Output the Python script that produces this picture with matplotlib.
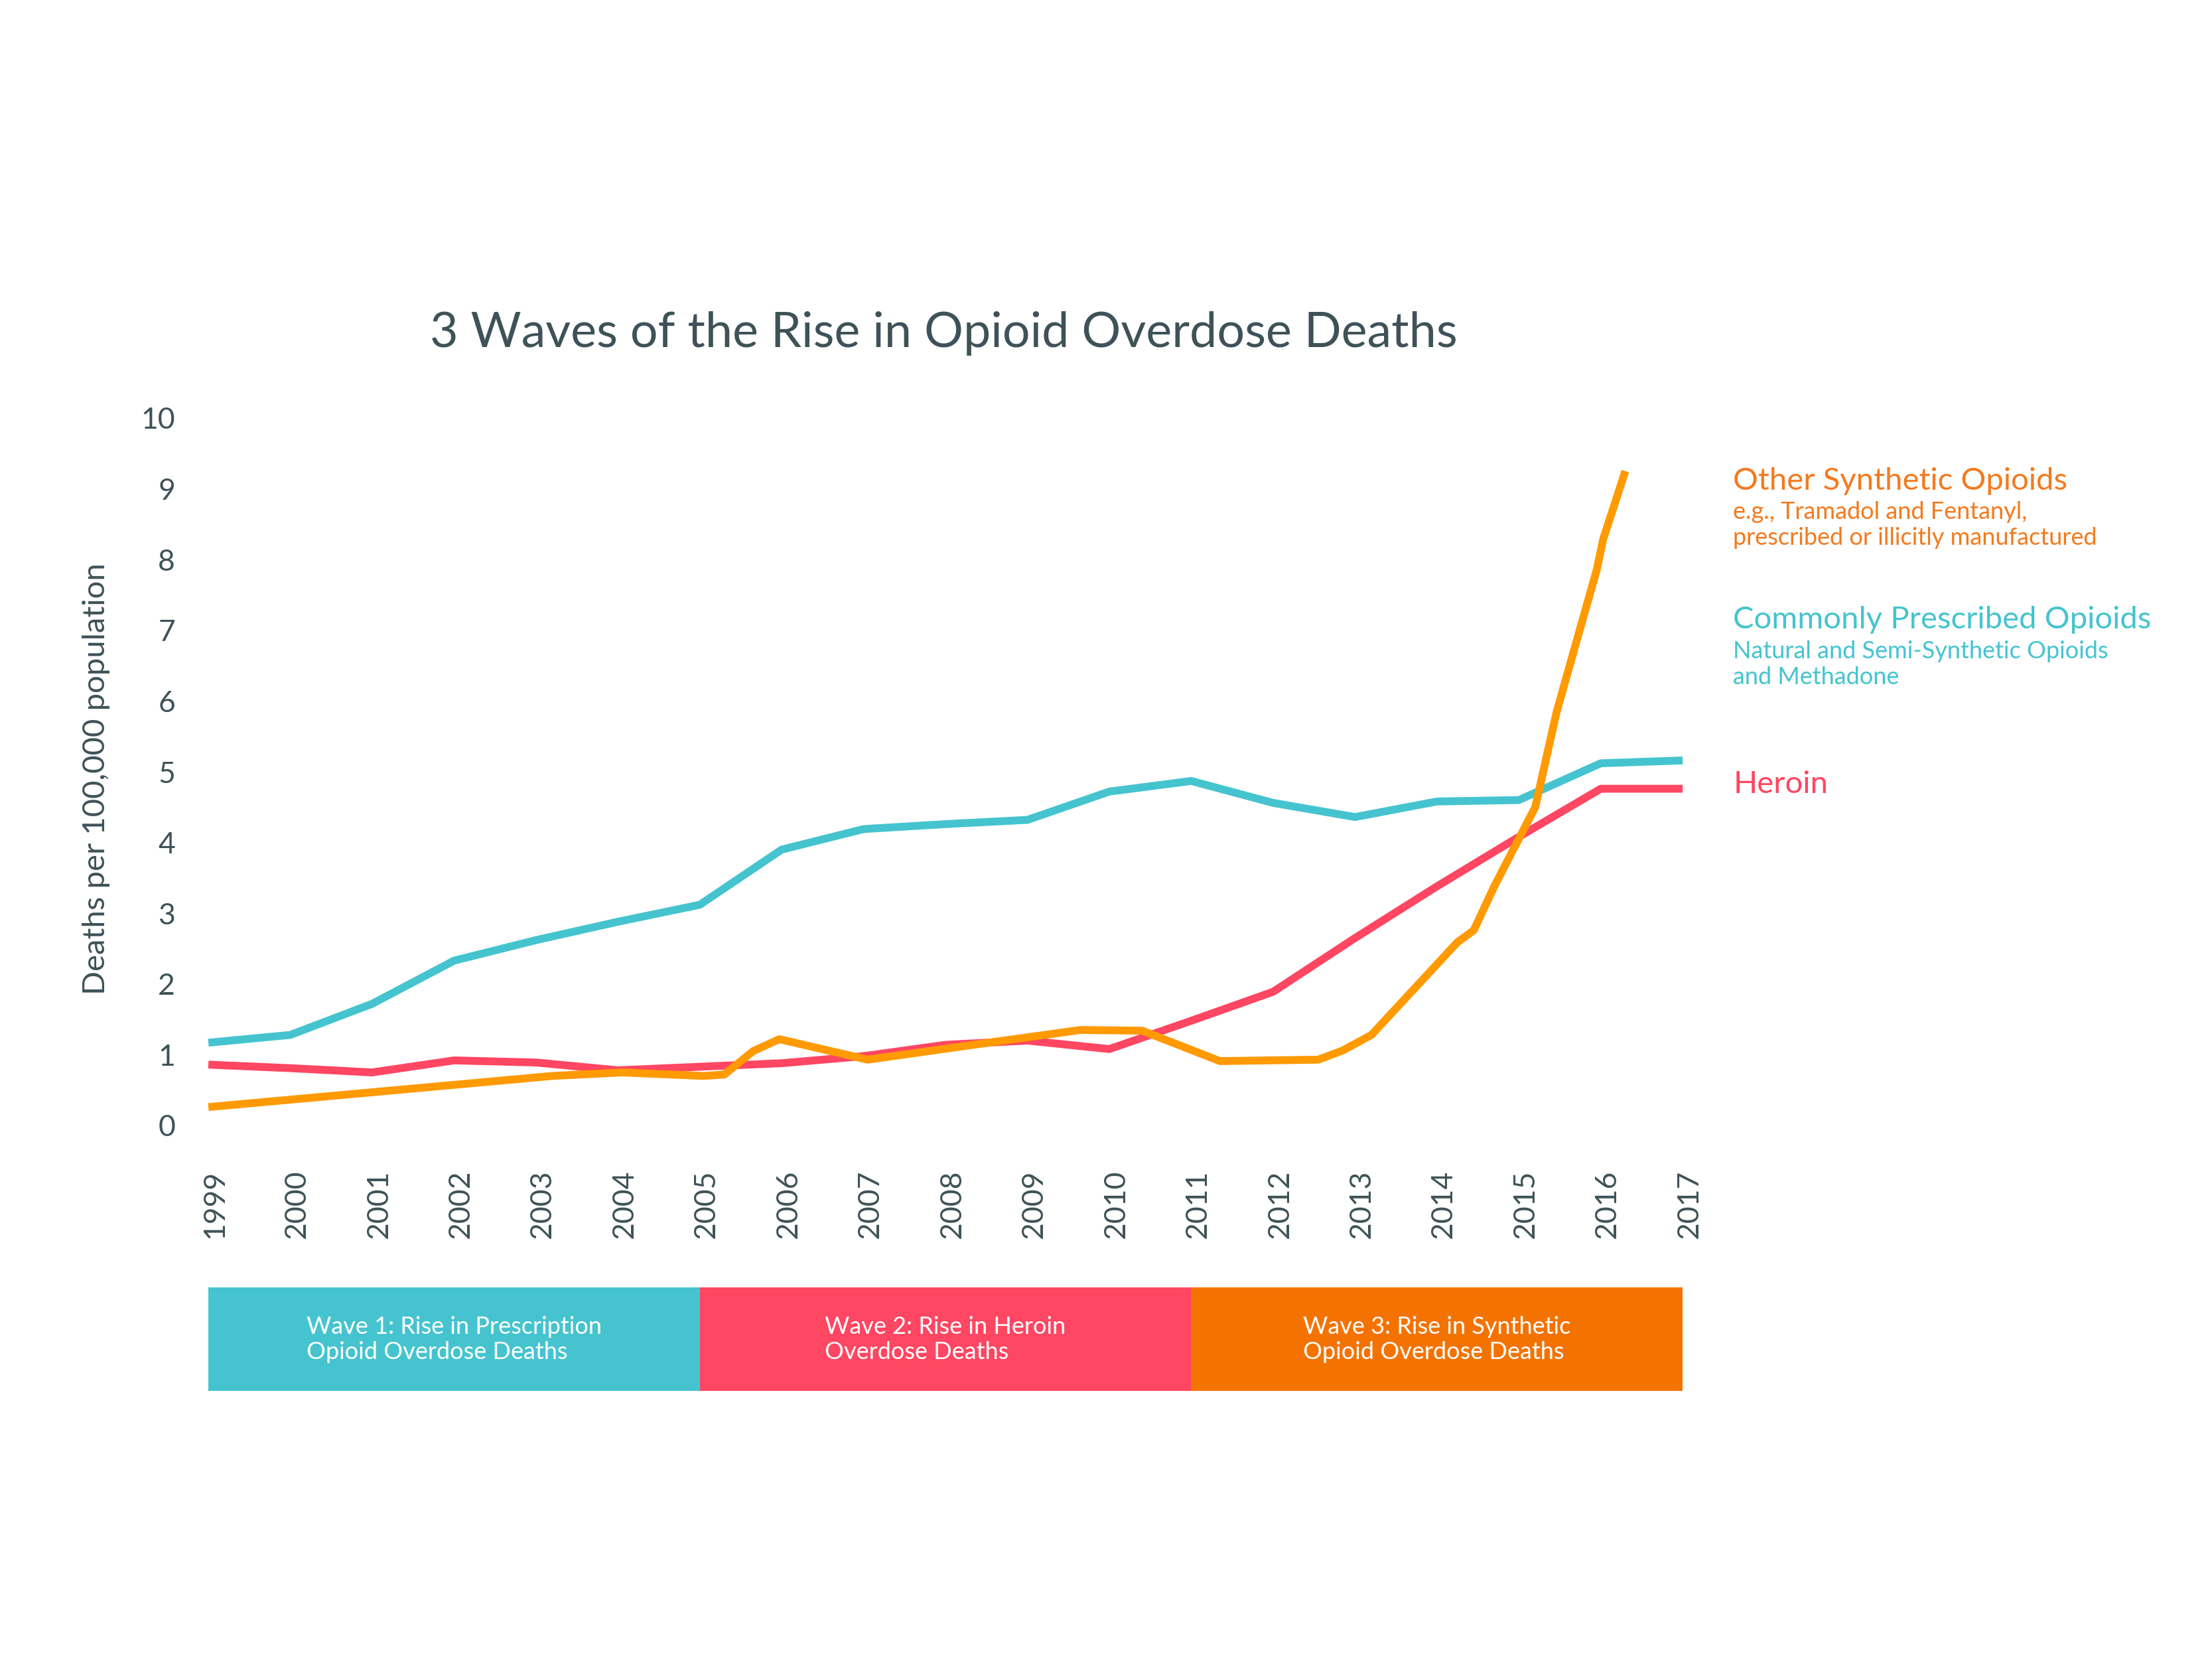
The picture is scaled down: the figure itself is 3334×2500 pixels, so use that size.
import matplotlib
matplotlib.use("Agg")
import matplotlib.pyplot as plt
from matplotlib.transforms import ScaledTranslation

plt.rcParams['font.family'] = ['Lato', 'DejaVu Sans']

years = list(range(1999, 2018))
commonly_prescribed = [1.17, 1.28, 1.72, 2.33, 2.62, 2.88, 3.12, 3.90, 4.19, 4.26,
                       4.32, 4.72, 4.87, 4.56, 4.36, 4.58, 4.60, 5.12, 5.16]
heroin = [0.86, 0.81, 0.75, 0.92, 0.89, 0.78, 0.83, 0.88, 0.98, 1.14,
          1.20, 1.08, 1.48, 1.89, 2.65, 3.38, 4.08, 4.76, 4.76]
# synthetic opioids line is drawn with extra points between years
synthetic_x = [1999.0, 2003.2, 2004.05, 2005.05, 2005.3, 2005.65, 2005.97, 2007.05,
               2008.4, 2009.65, 2010.4, 2011.35, 2012.55, 2012.85, 2013.2, 2014.25,
               2014.45, 2014.7, 2015.2, 2015.46, 2015.72, 2015.95, 2016.03, 2016.3]
synthetic = [0.26, 0.70, 0.75, 0.70, 0.72, 1.05, 1.22, 0.93,
             1.15, 1.35, 1.34, 0.91, 0.93, 1.06, 1.28, 2.59,
             2.76, 3.38, 4.50, 5.84, 6.91, 7.85, 8.29, 9.25]

wave_edges = [1999, 2005, 2011, 2017]
wave_labels = ["Wave 1: Rise in Prescription\nOpioid Overdose Deaths",
               "Wave 2: Rise in Heroin\nOverdose Deaths",
               "Wave 3: Rise in Synthetic\nOpioid Overdose Deaths"]

TEAL = "#45C4CF"
RED = "#FF4662"
ORANGE = "#FF9A00"
BAND_ORANGE = "#F47300"
TEXT_ORANGE = "#F47A1E"
DARK = "#3E5258"

fig = plt.figure(figsize=(33.34, 25), dpi=100)
ax = fig.add_axes([0.0942, 0.3216, 0.6665, 0.4264])

lw = 8.5
ax.plot(years, commonly_prescribed, color=TEAL, lw=lw, solid_capstyle='butt',
        solid_joinstyle='round', clip_on=False)
ax.plot(years, heroin, color=RED, lw=lw, solid_capstyle='butt',
        solid_joinstyle='round', clip_on=False)
ax.plot(synthetic_x, synthetic, color=ORANGE, lw=lw, solid_capstyle='butt',
        solid_joinstyle='round', clip_on=False)

ax.set_xlim(1999, 2017)
ax.set_ylim(0, 10)
ax.set_yticks(range(0, 11))
ax.set_xticks(years)
ax.set_xticklabels([str(y) for y in years], rotation=90)
for s in ax.spines.values():
    s.set_visible(False)
ax.tick_params(axis='both', length=0, labelcolor=DARK, labelsize=32)
ax.tick_params(axis='y', pad=36)
ax.tick_params(axis='x', pad=48)
shift = ScaledTranslation(0.10, 0, fig.dpi_scale_trans)
for lab in ax.get_xticklabels():
    lab.set_transform(lab.get_transform() + shift)

ax.set_ylabel("Deaths per 100,000 population", fontsize=34, color=DARK)
ax.yaxis.label.set_verticalalignment('center')
ax.yaxis.set_label_coords(-0.076, 0.49)

fig.text(0.4265, 0.7992, "3 Waves of the Rise in Opioid Overdose Deaths",
         ha='center', va='center', fontsize=53, color=DARK)

# labels to the right of the lines
lx = 0.7835
fig.text(lx, 1 - 725 / 2500, "Other Synthetic Opioids", color=TEXT_ORANGE,
         fontsize=34, va='center', ha='left')
fig.text(lx, 1 - 791 / 2500, "e.g., Tramadol and Fentanyl,\nprescribed or illicitly manufactured",
         color=TEXT_ORANGE, fontsize=26, va='center', ha='left', linespacing=1.2)
fig.text(lx, 1 - 934 / 2500, "Commonly Prescribed Opioids", color=TEAL,
         fontsize=34, va='center', ha='left')
fig.text(lx, 1 - 1001 / 2500, "Natural and Semi-Synthetic Opioids\nand Methadone",
         color=TEAL, fontsize=26, va='center', ha='left', linespacing=1.2)
fig.text(lx, 1 - 1182 / 2500, "Heroin", color=RED, fontsize=34, va='center', ha='left')

# wave band below the chart
band = fig.add_axes([0.0942, 0.1615, 0.6665, 0.0624])
band_colors = [TEAL, RED, BAND_ORANGE]
for i in range(3):
    start, end = wave_edges[i], wave_edges[i + 1]
    band.barh(0, end - start, left=start, height=1, color=band_colors[i], edgecolor='none')
    band.text((start + end) / 2, 0, wave_labels[i], ha='center', va='center',
              multialignment='left', color='white', fontsize=26, linespacing=1.2)
band.set_xlim(1999, 2017)
band.set_ylim(-0.5, 0.5)
band.axis('off')

fig.savefig("out.png", dpi=100, facecolor='white')
